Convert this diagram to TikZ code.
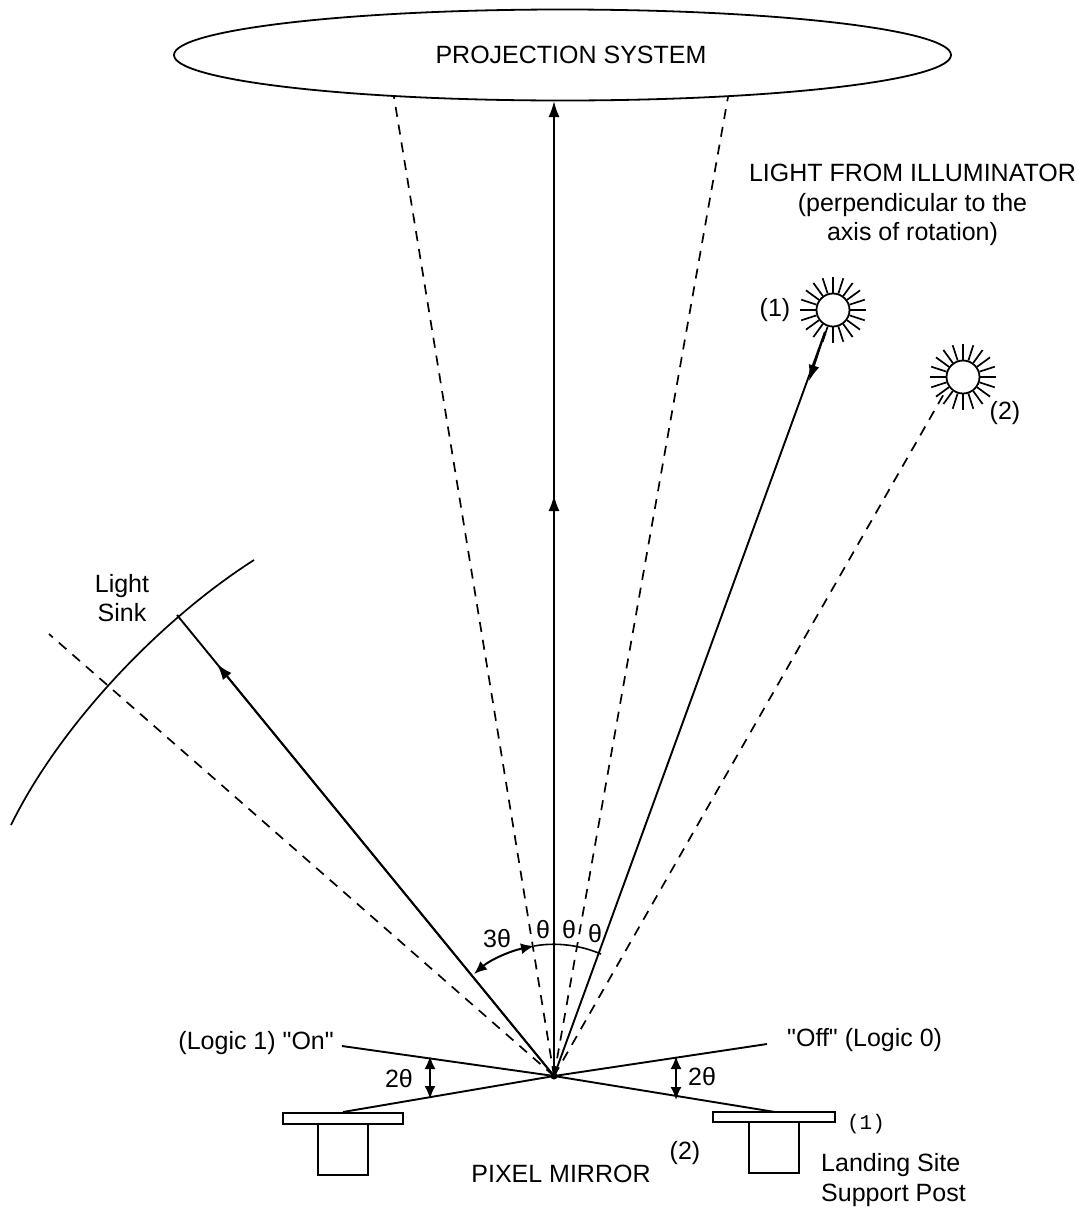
\documentclass[tikz,border=0pt]{standalone}
\usepackage{fontspec}
\newfontfamily\labelfont{Liberation Sans}
\newfontfamily\monofont{Liberation Mono}
\usetikzlibrary{shapes.geometric, arrows.meta}
\tikzset{
    ray/.style = {line width = 1.9pt},
    dashray/.style = {line width = 1.7pt, dash pattern = on 10pt off 8pt},
    part/.style = {draw, line width = 1.7pt, fill = white, inner sep = 0pt, outer sep = 0pt},
    lamp/.style = {circle, draw, line width = 1.8pt, fill = white, minimum size = 33pt, inner sep = 0pt},
    word/.style = {inner sep = 0pt, font = \labelfont\fontsize{25}{29.5}\selectfont},
    midtip/.style = {-{Latex[length = 16pt, width = 11pt]}},
    dim/.style = {{Latex[length = 13pt, width = 11pt]}-{Latex[length = 13pt, width = 11pt]}, line width = 2pt},
}
\begin{document}
\begin{tikzpicture}[x = 1pt, y = -1pt]
    \useasboundingbox (0, 0) rectangle (1079, 1211);
    \coordinate (pivot) at (554, 1076);
    \node [ellipse, draw, line width = 1.8pt, minimum width = 777pt, minimum height = 91pt, inner sep = 0pt] (system) at (562.5, 55) {};
    \node [word] (systemtext) at (571, 55) {PROJECTION SYSTEM};
    % rays up to the projection system
    \coordinate (sysleft) at (394, 97);
    \coordinate (sysright) at (728, 97);
    \coordinate (systop) at (554, 101);
    \coordinate (sysmid) at (554, 495);
    \draw [dashray] (pivot) -- (sysleft);
    \draw [dashray] (pivot) -- (sysright);
    \draw [ray, midtip] (pivot) -- (systop);
    \draw [ray, midtip] (pivot) -- (sysmid);
    % illuminators
    \coordinate (lampmid) at (809, 381);
    \coordinate (lampafoot) at (825, 332);
    \coordinate (lampbfoot) at (945, 392);
    \draw [ray] (pivot) -- (lampafoot);
    \draw [ray, midtip] (lampafoot) -- (lampmid);
    \draw [dashray] (pivot) -- (lampbfoot);
    \node [lamp] (lampa) at (833, 310) {};
    \node [lamp] (lampb) at (963, 377) {};
    \foreach \ang in {0, 18, ..., 350} {
        \draw [line width = 1.7pt] (lampa.\ang) -- ++(\ang:16pt);
        \draw [line width = 1.7pt] (lampb.\ang) -- ++(\ang:16pt);
    }
    \node [word, align = center] (light) at (912.5, 205) {LIGHT FROM ILLUMINATOR\\(perpendicular to the\\axis of rotation)};
    \node [word] (lampalabel) at (775, 310) {(1)};
    \node [word] (lampblabel) at (1005, 413) {(2)};
    % light sink
    \coordinate (sinkstart) at (11, 825);
    \coordinate (sinkend) at (254, 560);
    \coordinate (sinkhit) at (177, 615);
    \coordinate (sinkmid) at (217, 664);
    \coordinate (sinkdash) at (49, 634);
    \draw [line width = 1.7pt] (sinkstart) .. controls (60, 725) and (160, 620) .. (sinkend);
    \draw [ray] (pivot) -- (sinkhit);
    \draw [ray, midtip] (pivot) -- (sinkmid);
    \draw [dashray] (pivot) -- (sinkdash);
    \node [word, align = center] (sink) at (122, 598) {Light\\Sink};
    % mirror positions and posts
    \coordinate (onend) at (342, 1046);
    \coordinate (onlow) at (775, 1112);
    \coordinate (offend) at (767, 1044);
    \coordinate (offlow) at (343, 1112);
    \draw [ray] (onend) -- (pivot) -- (onlow);
    \draw [ray] (offend) -- (pivot) -- (offlow);
    \node [part, minimum width = 120pt, minimum height = 11pt] (padleft) at (343, 1118.5) {};
    \node [part, minimum width = 50pt, minimum height = 51pt, anchor = north] (postleft) at (padleft.south) {};
    \node [part, minimum width = 122pt, minimum height = 10pt] (padright) at (774, 1117) {};
    \node [part, minimum width = 50pt, minimum height = 51pt, anchor = north] (postright) at (padright.south) {};
    \node [circle, fill, inner sep = 2.5pt] (tip) at (pivot) {};
    % angle marks
    \coordinate (lefttop) at (430, 1056);
    \coordinate (leftlow) at (430, 1099);
    \coordinate (righttop) at (676, 1056);
    \coordinate (rightlow) at (676, 1100);
    \draw [dim] (lefttop) -- (leftlow);
    \draw [dim] (righttop) -- (rightlow);
    \coordinate (arca) at (474, 974);
    \coordinate (arcb) at (534, 946);
    \coordinate (arcc) at (601, 954);
    \draw [dim] (arca) .. controls (490, 960) and (510, 951) .. (arcb);
    \draw [line width = 1.6pt] (arcb) .. controls (556, 942) and (580, 945) .. (arcc);
    \node [word] (three) at (497, 939) {3θ};
    \node [word] (thetaa) at (543, 930) {θ};
    \node [word] (thetab) at (569, 930) {θ};
    \node [word] (thetac) at (595, 934) {θ};
    \node [word] (twoleft) at (399, 1079) {2θ};
    \node [word] (tworight) at (702, 1077) {2θ};
    % texts at the bottom
    \node [word, anchor = east] (onlabel) at (334, 1043) {(Logic 1) "On"};
    \node [word, anchor = west] (offlabel) at (787, 1040) {"Off" (Logic 0)};
    \node [word, font = \monofont\fontsize{21}{22}\selectfont] (one) at (866, 1124) {(1)};
    \node [word] (two) at (685, 1153) {(2)};
    \node [word] (pixel) at (561, 1174) {PIXEL MIRROR};
    \node [word, align = left, anchor = west] (landing) at (821, 1180) {Landing Site\\Support Post};
\end{tikzpicture}
\end{document}
